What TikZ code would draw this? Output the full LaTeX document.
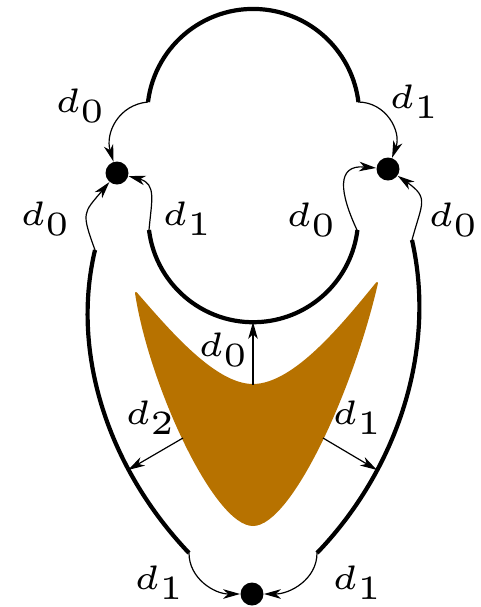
\documentclass[tikz,border=0pt]{standalone}
\usepackage{graphicx}
\usetikzlibrary{arrows.meta}
\definecolor{shapebrown}{RGB}{183,114,0}
\newcommand{\lbl}[1]{\scalebox{3.4}{\fontsize{5}{6}\selectfont$#1$}}
\begin{document}
\begin{tikzpicture}[x=0.5pt,y=0.5pt,
  thickline/.style={line width=2.1pt},
  thinarrow/.style={line width=0.6pt,-{Stealth[length=8.5pt,width=4.8pt,inset=2.5pt]}},
  dot/.style={circle,fill=black,inner sep=0pt,minimum size=11.5pt},
  lab/.style={inner sep=0pt}]
\useasboundingbox (0,0) rectangle (481,-607);

% brown shape
\fill[shapebrown,draw=shapebrown,line width=1pt,line join=round]
  (136,-293) .. controls (150,-385) and (215,-525) .. (253,-525)
  .. controls (290,-525) and (352,-392) .. (377,-283)
  .. controls (345,-322) and (295,-385) .. (253,-385)
  .. controls (215,-385) and (170,-332) .. (136,-293) -- cycle;

% dots
\node[dot] (A) at (117,-173) {};
\node[dot] (B) at (388,-169) {};
\node[dot] (C) at (252,-594) {};

% arc end points
\coordinate (tL) at (148,-102);
\coordinate (tR) at (358,-102);
\coordinate (iL) at (149,-230);
\coordinate (iR) at (357,-230);
\coordinate (oL) at (95,-250);
\coordinate (oR) at (412,-240);
\coordinate (bL) at (189,-553);
\coordinate (bR) at (317,-553);

% thick curves
\draw[thickline] (tL) arc[start angle=173, end angle=7, radius=106];
\draw[thickline] (iL) arc[start angle=187, end angle=353, radius=105];
\draw[thickline] (oL) .. controls (70,-355) and (110,-470) .. (bL);
\draw[thickline] (oR) .. controls (437,-350) and (397,-470) .. (bR);

% thin face arrows to the dots
\draw[thinarrow] (tL) to[out=185,in=107,looseness=1.1] (A);
\draw[thinarrow] (iL) to[out=85,in=-15,looseness=1.3] (A);
\draw[thinarrow] (oL) to[out=110,in=230,looseness=1.5] (A);
\draw[thinarrow] (tR) to[out=0,in=70,looseness=1.1] (B);
\draw[thinarrow] (iR) to[out=115,in=175,looseness=1.6] (B);
\draw[thinarrow] (oR) to[out=75,in=-35,looseness=1.5] (B);
\draw[thinarrow] (bL) to[out=-90,in=180] (C);
\draw[thinarrow] (bR) to[out=-90,in=0] (C);

% arrows from the shape
\coordinate (s0) at (253,-385);
\coordinate (e0) at (253,-322);
\coordinate (s2) at (183,-438);
\coordinate (e2) at (128,-470);
\coordinate (s1) at (323,-438);
\coordinate (e1) at (377,-470);
\draw[thinarrow] (s0) -- (e0);
\draw[thinarrow] (s2) -- (e2);
\draw[thinarrow] (s1) -- (e1);

% labels
\node[lab] (l1) at (81,-106) {\lbl{d_0}};
\node[lab] (l2) at (415,-102) {\lbl{d_1}};
\node[lab] (l3) at (46,-219) {\lbl{d_0}};
\node[lab] (l4) at (188,-219) {\lbl{d_1}};
\node[lab] (l5) at (312,-220) {\lbl{d_0}};
\node[lab] (l6) at (454,-220) {\lbl{d_0}};
\node[lab] (l7) at (224,-350) {\lbl{d_0}};
\node[lab] (l8) at (151,-418) {\lbl{d_2}};
\node[lab] (l9) at (358,-418) {\lbl{d_1}};
\node[lab] (l10) at (160,-583) {\lbl{d_1}};
\node[lab] (l11) at (358,-583) {\lbl{d_1}};
\end{tikzpicture}
\end{document}
